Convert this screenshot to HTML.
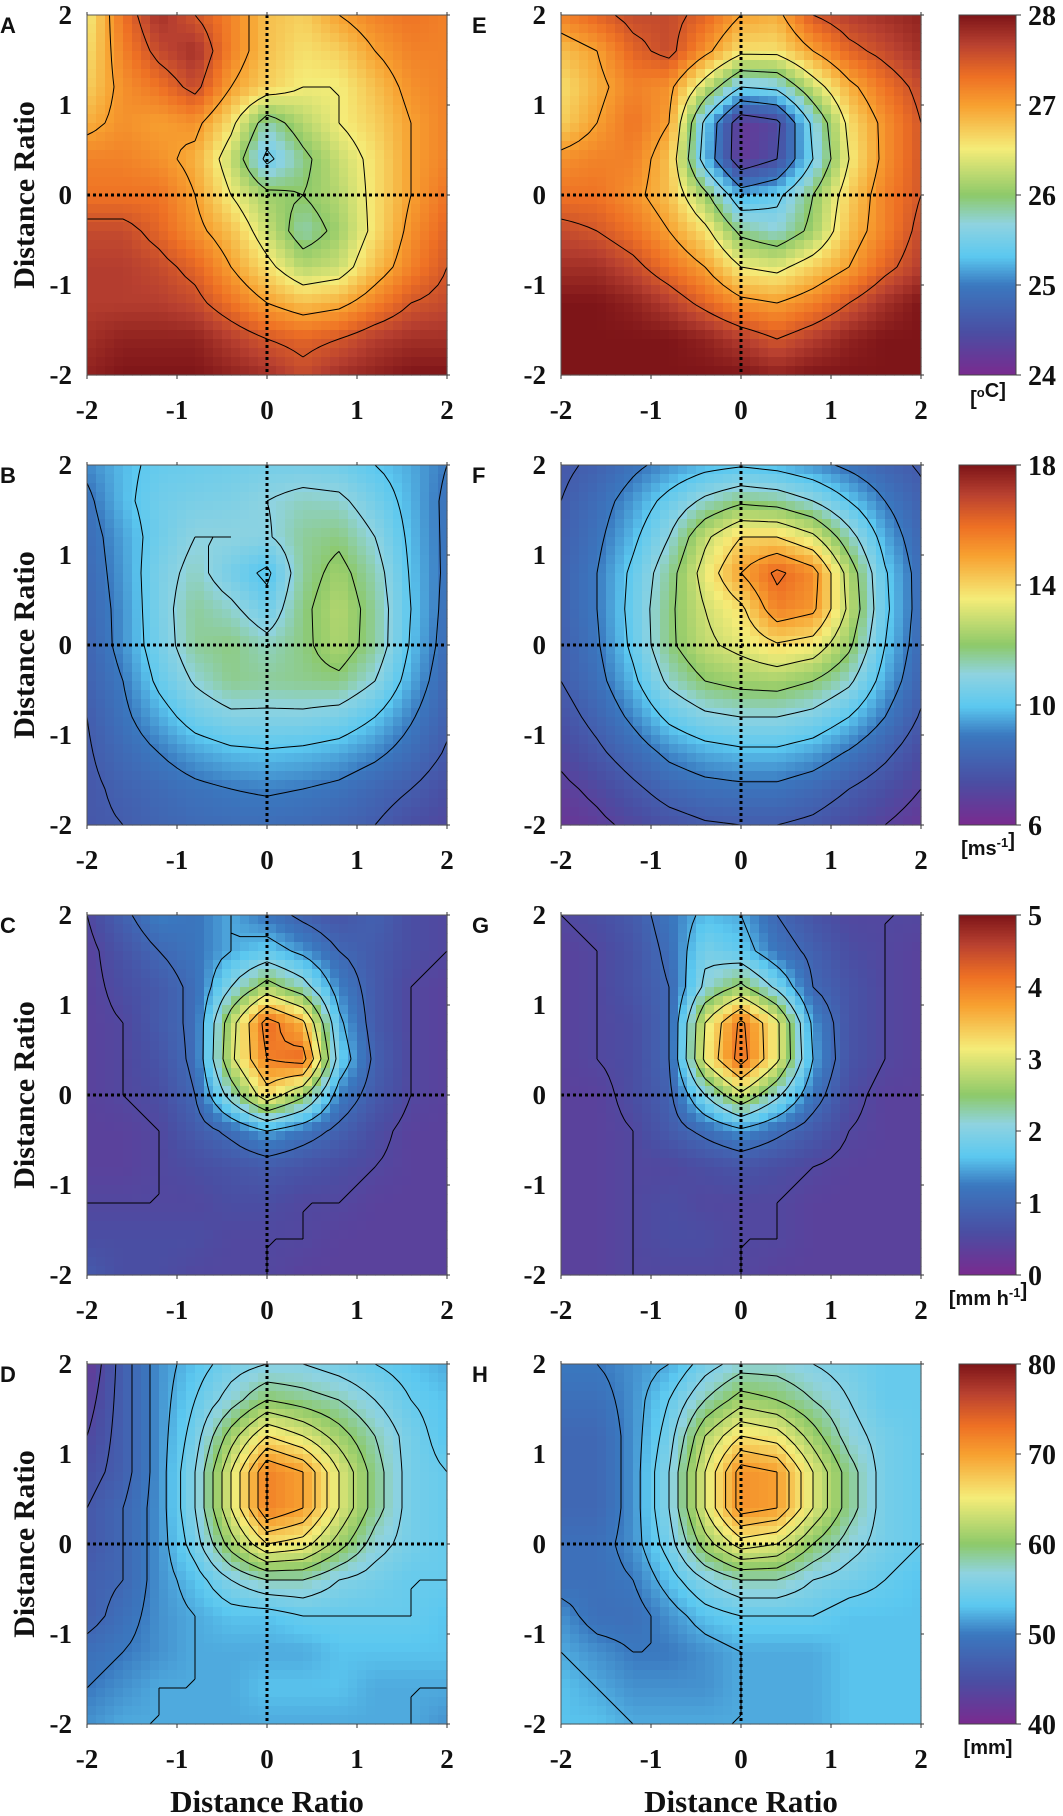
<!DOCTYPE html>
<html><head><meta charset="utf-8"><style>
html,body{margin:0;padding:0;background:#fff;}
svg{display:block;}
text{font-family:"Liberation Serif",serif;}
</style></head><body>
<svg id="fig" width="1063" height="1816" viewBox="0 0 1063 1816" xmlns="http://www.w3.org/2000/svg"></svg>
<script>
// Grids: rows from y=2 (top) to y=-2 (bottom), columns x=-2..2 step 0.4
const gridA=[
[26.5,27.3,27.8,27.5,27.2,26.8,26.7,27.0,27.2,27.3,27.2],
[26.6,27.2,27.6,27.8,27.2,26.8,26.6,26.7,27.0,27.2,27.2],
[26.7,27.1,27.3,27.6,27.0,26.7,26.5,26.5,26.8,27.1,27.2],
[26.9,27.1,27.0,27.1,26.6,25.8,26.2,26.5,26.7,27.0,27.2],
[27.2,27.2,27.1,26.9,26.3,25.4,25.9,26.3,26.6,27.0,27.2],
[27.3,27.3,27.3,27.0,26.5,26.1,26.0,26.2,26.6,27.0,27.3],
[27.6,27.6,27.4,27.1,26.8,26.3,25.8,26.1,26.6,27.1,27.4],
[27.7,27.7,27.6,27.4,27.0,26.6,26.2,26.3,26.8,27.2,27.5],
[27.7,27.7,27.7,27.6,27.3,27.0,26.8,26.9,27.2,27.5,27.6],
[27.8,27.9,27.9,27.9,27.7,27.5,27.4,27.5,27.7,27.8,27.8],
[27.9,28,28,28,27.9,27.8,27.6,27.8,27.9,28,28]];
const gridE=[
[27.2,27.4,27.6,27.6,27.4,27.0,26.9,27.5,27.7,27.8,27.9],
[26.8,27.0,27.4,27.6,27.1,26.6,26.6,27.0,27.4,27.6,27.8],
[26.6,26.9,27.2,27.1,26.3,25.5,25.6,26.3,26.9,27.3,27.6],
[26.7,27.0,27.3,27.0,25.4,24.2,24.4,25.6,26.6,27.1,27.5],
[27.1,27.2,27.2,26.8,25.3,24.2,24.5,25.5,26.5,27.1,27.5],
[27.3,27.3,27.1,26.8,26.1,25.2,25.4,26.0,26.7,27.2,27.5],
[27.6,27.5,27.3,27.0,26.6,25.9,25.7,26.1,26.8,27.2,27.6],
[27.8,27.8,27.6,27.3,27.0,26.5,26.4,26.7,27.0,27.4,27.7],
[28,28,27.9,27.7,27.4,27.1,27.0,27.2,27.5,27.8,28],
[28,28,28,28,27.9,27.7,27.5,27.7,27.9,28,28],
[28,28,28,28,28,28,27.9,28,28,28,28]];
const gridB=[
[9.2,9.8,10.2,10.3,10.4,10.5,10.5,10.4,10.0,9.6,9.0],
[8.8,9.8,10.4,10.6,10.7,11.0,11.3,11.2,10.5,9.7,8.8],
[8.6,9.5,10.4,11.0,11.0,10.9,11.6,11.8,11.0,9.8,8.8],
[8.5,9.4,10.6,11.3,10.5,9.8,11.6,12.3,11.4,9.9,8.8],
[8.4,9.3,10.6,11.6,11.2,10.4,11.8,12.6,11.6,10.0,8.7],
[8.3,9.3,10.5,11.6,11.8,11.3,11.8,12.5,11.6,9.9,8.6],
[8.2,9.0,10.2,11.1,11.7,11.6,11.7,11.8,11.0,9.6,8.4],
[8.0,8.8,9.6,10.4,10.8,10.8,10.8,10.6,10.0,9.1,8.2],
[7.9,8.5,9.0,9.5,9.8,9.9,9.8,9.6,9.2,8.6,7.9],
[7.8,8.2,8.5,8.8,9.0,9.1,9.0,8.8,8.4,8.0,7.5],
[7.8,8.0,8.3,8.5,8.6,8.6,8.5,8.3,8.0,7.5,7.2]];
const gridF=[
[7.8,8.2,8.8,9.3,9.7,9.9,9.7,9.3,8.8,8.3,7.9],
[8.0,8.6,9.4,10.3,11.2,11.8,11.6,11.0,10.0,9.0,8.2],
[8.1,8.8,9.8,11.0,12.8,14.0,14.0,13.2,11.4,9.6,8.4],
[8.2,9.0,10.2,11.6,13.4,15.0,16.2,15.4,12.6,10.1,8.6],
[8.2,9.0,10.3,11.8,13.0,13.8,15.6,15.2,12.8,10.2,8.6],
[8.1,8.9,10.2,11.8,12.8,13.3,13.9,13.6,12.2,10.0,8.5],
[8.0,8.7,9.8,11.2,12.0,12.3,12.4,12.0,11.2,9.6,8.3],
[7.6,8.3,9.2,10.2,10.8,11.0,11.0,10.7,10.0,9.0,7.9],
[7.2,7.8,8.5,9.2,9.6,9.8,9.8,9.5,8.9,8.2,7.4],
[6.8,7.2,7.8,8.4,8.7,8.8,8.8,8.5,8.0,7.5,7.0],
[6.5,6.8,7.2,7.6,7.9,8.0,8.0,7.8,7.4,7.0,6.6]];
const gridC=[
[0.5,0.9,1.3,1.2,1.5,1.2,0.9,0.7,0.9,0.6,0.5],
[0.4,0.7,1.0,1.2,1.5,1.7,1.4,1.0,0.8,0.6,0.5],
[0.4,0.6,0.8,1.1,2.0,2.7,2.2,1.3,0.8,0.5,0.4],
[0.4,0.5,0.8,1.1,2.8,4.2,3.6,1.6,0.8,0.5,0.4],
[0.4,0.5,0.7,1.1,2.9,4.0,4.2,1.8,0.9,0.5,0.4],
[0.4,0.5,0.6,1.0,2.2,3.3,2.6,1.3,0.8,0.5,0.4],
[0.4,0.4,0.5,0.8,1.1,1.5,1.2,0.9,0.6,0.4,0.4],
[0.4,0.4,0.5,0.6,0.7,0.8,0.7,0.6,0.5,0.4,0.4],
[0.5,0.5,0.5,0.5,0.6,0.6,0.5,0.5,0.4,0.4,0.4],
[0.6,0.6,0.6,0.6,0.5,0.5,0.5,0.4,0.4,0.4,0.4],
[0.8,0.6,0.6,0.5,0.5,0.5,0.4,0.4,0.4,0.4,0.4]];
const gridG=[
[0.5,0.6,0.8,1.2,1.6,1.5,1.0,0.7,0.5,0.5,0.5],
[0.4,0.5,0.7,1.1,1.9,1.7,1.2,0.9,0.6,0.5,0.4],
[0.4,0.5,0.7,1.0,2.1,2.6,1.9,1.0,0.7,0.5,0.4],
[0.4,0.5,0.6,1.0,3.0,4.1,3.1,1.4,0.7,0.5,0.4],
[0.4,0.5,0.6,1.0,3.1,4.2,3.1,1.5,0.7,0.5,0.4],
[0.4,0.4,0.6,0.9,2.0,2.9,2.1,1.2,0.6,0.4,0.4],
[0.4,0.4,0.5,0.8,1.1,1.4,1.1,0.8,0.5,0.4,0.4],
[0.4,0.4,0.5,0.5,0.6,0.7,0.6,0.5,0.4,0.4,0.4],
[0.4,0.4,0.5,0.6,0.5,0.5,0.5,0.4,0.4,0.4,0.4],
[0.4,0.4,0.5,0.6,0.6,0.5,0.5,0.4,0.4,0.4,0.4],
[0.4,0.4,0.5,0.5,0.5,0.5,0.4,0.4,0.4,0.4,0.4]];
const gridD=[
[42,47,51,53,55,56,56,55,54,53,52],
[43,47,51,54,57,60,59,58,56,54,53],
[44,47,51,55,61,66,64,61,58,55,53],
[45,47,51,56,64,72,70,64,59,55,54],
[46,48,51,56,64,72,70,64,59,55,54],
[46,48,51,55,61,66,65,61,57,55,54],
[47,48,51,53,56,58,58,56,55,54,54],
[47,49,51,52,53,53,54,54,54,54,53],
[49,50,51,52,52,52,52,53,53,53,53],
[50,51,52,52,52,53,53,53,52,52,52],
[51,52,52,52,52,52,52,52,52,52,51]];
const gridH=[
[50,50,51,52,55,57,57,56,55,54,54],
[49,49,51,54,58,61,60,58,56,54,54],
[48,48,51,55,62,66,65,61,57,55,54],
[48,48,51,56,64,71,70,64,59,55,54],
[48,48,51,56,64,71,70,64,59,55,54],
[49,49,51,55,61,65,64,60,57,55,54],
[49,49,50,53,56,58,58,56,55,54,53],
[51,49,49,51,53,54,54,54,53,53,53],
[52,51,50,50,51,52,52,52,53,53,53],
[53,52,51,51,51,52,52,52,53,53,53],
[53,53,52,52,52,52,52,52,53,53,53]];
const axisTicks=[-2,-1,0,1,2];
const axisTickLabels=["-2","-1","0","1","2"];
const cbTicks1=[24,25,26,27,28];
const cbTicks2=[6,10,14,18];
const cbTicks3=[0,1,2,3,4,5];
const cbTicks4=[40,50,60,70,80];
const ranges=[[24,28],[6,18],[0,5],[40,80]];
const steps=[0.5,1,0.5,2];

const NS="http://www.w3.org/2000/svg";
const svg=document.getElementById('fig');
function mk(tag,attrs,parent){const e=document.createElementNS(NS,tag);for(const k in attrs)e.setAttribute(k,attrs[k]);(parent||svg).appendChild(e);return e;}
const stops=[[0,[122,42,143]],[0.12,[74,78,163]],[0.25,[58,120,191]],[0.33,[91,200,240]],[0.42,[143,211,224]],[0.5,[141,201,106]],[0.63,[245,236,120]],[0.75,[247,160,48]],[0.83,[238,112,36]],[0.92,[184,64,48]],[1,[126,21,24]]];
function cmap(t){t=Math.max(0,Math.min(1,t));for(let i=1;i<stops.length;i++){if(t<=stops[i][0]){const a=stops[i-1],b=stops[i];const f=(t-a[0])/(b[0]-a[0]);const c=a[1].map((v,k)=>Math.round(v+(b[1][k]-v)*f));return `rgb(${c[0]},${c[1]},${c[2]})`;}}return 'rgb(126,21,24)';}

const PW=360, cols=[87,561], rowsY=[15,465,915,1364];
const grids=[[gridA,gridE],[gridB,gridF],[gridC,gridG],[gridD,gridH]];
const letters=[["A","E"],["B","F"],["C","G"],["D","H"]];
const cbTicks=[cbTicks1,cbTicks2,cbTicks3,cbTicks4];

function drawPanel(x0,y0,grid,vmin,vmax,step,letter){
  const g=mk('g',{});
  
  
  const sx=v=>x0+(v+2)/4*PW, sy=v=>y0+(2-v)/4*PW;
  const n=grid.length-1, U=4, M=n*U;
  const fine=[];
  for(let i=0;i<=M;i++){fine.push([]);for(let j=0;j<=M;j++){const r=i/U,c=j/U;const r0=Math.min(Math.floor(r),n-1),c0=Math.min(Math.floor(c),n-1);const fr=r-r0,fc=c-c0;
    fine[i].push(grid[r0][c0]*(1-fr)*(1-fc)+grid[r0][c0+1]*(1-fr)*fc+grid[r0+1][c0]*fr*(1-fc)+grid[r0+1][c0+1]*fr*fc);}}
  const cs=PW/M;
  for(let i=0;i<M;i++)for(let j=0;j<M;j++){
    const v=(fine[i][j]+fine[i][j+1]+fine[i+1][j]+fine[i+1][j+1])/4;
    const r=mk('rect',{x:(x0+j*cs).toFixed(2),y:(y0+i*cs).toFixed(2),width:(cs+0.6).toFixed(2),height:(cs+0.6).toFixed(2),fill:cmap((v-vmin)/(vmax-vmin))},g);
    
    
  }
  let d='';
  const P=(i,j)=>[x0+j*cs,y0+i*cs];
  for(let L=vmin+step;L<vmax;L+=step){
    for(let i=0;i<M;i++)for(let j=0;j<M;j++){
      const a=fine[i][j],b=fine[i][j+1],c=fine[i+1][j+1],e=fine[i+1][j];
      const pts=[];
      const edge=(v1,v2,p1,p2)=>{if((v1<L)!==(v2<L)){const t=(L-v1)/(v2-v1);pts.push([p1[0]+(p2[0]-p1[0])*t,p1[1]+(p2[1]-p1[1])*t]);}};
      edge(a,b,P(i,j),P(i,j+1));edge(b,c,P(i,j+1),P(i+1,j+1));edge(c,e,P(i+1,j+1),P(i+1,j));edge(e,a,P(i+1,j),P(i,j));
      for(let k=0;k+1<pts.length;k+=2)d+=`M${pts[k][0].toFixed(1)} ${pts[k][1].toFixed(1)}L${pts[k+1][0].toFixed(1)} ${pts[k+1][1].toFixed(1)}`;
    }
  }
  const cp=mk('path',{d:d,stroke:'#000','stroke-width':1,fill:'none'},g);
  
  
  const vl=mk('line',{x1:sx(0),y1:y0,x2:sx(0),y2:y0+PW,stroke:'#000','stroke-width':3,'stroke-dasharray':'3 3'},g);
  
  
  const hl=mk('line',{x1:x0,y1:sy(0),x2:x0+PW,y2:sy(0),stroke:'#000','stroke-width':3,'stroke-dasharray':'3 3'},g);
  
  
  const fr=mk('rect',{x:x0,y:y0,width:PW,height:PW,fill:'none',stroke:'#555','stroke-width':1},g);
  
  
  axisTicks.forEach((t,k)=>{
    mk('line',{x1:sx(t),y1:y0+PW,x2:sx(t),y2:y0+PW+4,stroke:'#333','stroke-width':1},g);
    mk('line',{x1:sx(t),y1:y0,x2:sx(t),y2:y0-3,stroke:'#333','stroke-width':1},g);
    mk('line',{x1:x0+PW,y1:sy(t),x2:x0+PW+3,y2:sy(t),stroke:'#333','stroke-width':1},g);
    const xl=mk('text',{x:sx(t),y:y0+PW+44,'text-anchor':'middle','font-size':27,'font-weight':'bold',fill:'#111'},g);
    xl.textContent=axisTickLabels[k];
    
    
    const yl=mk('text',{x:x0-15,y:sy(t)+9,'text-anchor':'end','font-size':27,'font-weight':'bold',fill:'#111'},g);
    yl.textContent=axisTickLabels[k];
    
    
  });
  const lt=mk('text',{x:x0-87+(x0>300?-2:0),y:y0+18,'font-size':22,'font-weight':'bold',style:'font-family:"Liberation Sans",sans-serif',fill:'#111'},g);
  lt.textContent=letter;
  
  
}

for(let r=0;r<4;r++){
  const [vmin,vmax]=ranges[r];
  for(let c=0;c<2;c++) drawPanel(cols[c],rowsY[r],grids[r][c],vmin,vmax,steps[r],letters[r][c]);
  const yt=mk('text',{x:0,y:0,transform:`translate(34,${rowsY[r]+180}) rotate(-90)`,'text-anchor':'middle','font-size':30,'font-weight':'bold',fill:'#111'});
  yt.textContent='Distance Ratio';
  
  
  const cb=mk('g',{});
  
  
  const cx=959, cw=57, y0=rowsY[r];
  const N=120;
  for(let k=0;k<N;k++){
    const t=(k+0.5)/N;
    mk('rect',{x:cx,y:(y0+PW-(k+1)*PW/N).toFixed(2),width:cw,height:(PW/N+0.5).toFixed(2),fill:cmap(t)},cb);
  }
  mk('rect',{x:cx,y:y0,width:cw,height:PW,fill:'none',stroke:'#444','stroke-width':1},cb);
  cbTicks[r].forEach(t=>{
    const yy=y0+PW-(t-vmin)/(vmax-vmin)*PW;
    mk('line',{x1:cx+cw,y1:yy,x2:cx+cw+5,y2:yy,stroke:'#333','stroke-width':1},cb);
    const tl=mk('text',{x:cx+cw+12,y:yy+10,'font-size':28,'font-weight':'bold',fill:'#111'},cb);
    tl.textContent=String(t);
    
    
  });
}
const units=[['[',{t:'o',sup:true},'C]'],['[ms',{t:'-1',sup:true},']'],['[mm h',{t:'-1',sup:true},']'],['[mm]']];
units.forEach((u,r)=>{
  const t=mk('text',{x:988,y:rowsY[r]+PW+30,'text-anchor':'middle','font-size':20,'font-weight':'bold',style:'font-family:"Liberation Sans",sans-serif',fill:'#111'});
  
  
  u.forEach(p=>{const s=mk('tspan',{},t);if(typeof p==='string'){s.textContent=p;}else{s.setAttribute('dy','-8');s.setAttribute('font-size','13');s.textContent=p.t;const s2=mk('tspan',{dy:'8'},t);s2.textContent='';}});
});
[267,741].forEach(cx=>{
  const t=mk('text',{x:cx,y:1812,'text-anchor':'middle','font-size':31,'font-weight':'bold',fill:'#111'});
  t.textContent='Distance Ratio';
  
  
});
</script>
</body></html>
